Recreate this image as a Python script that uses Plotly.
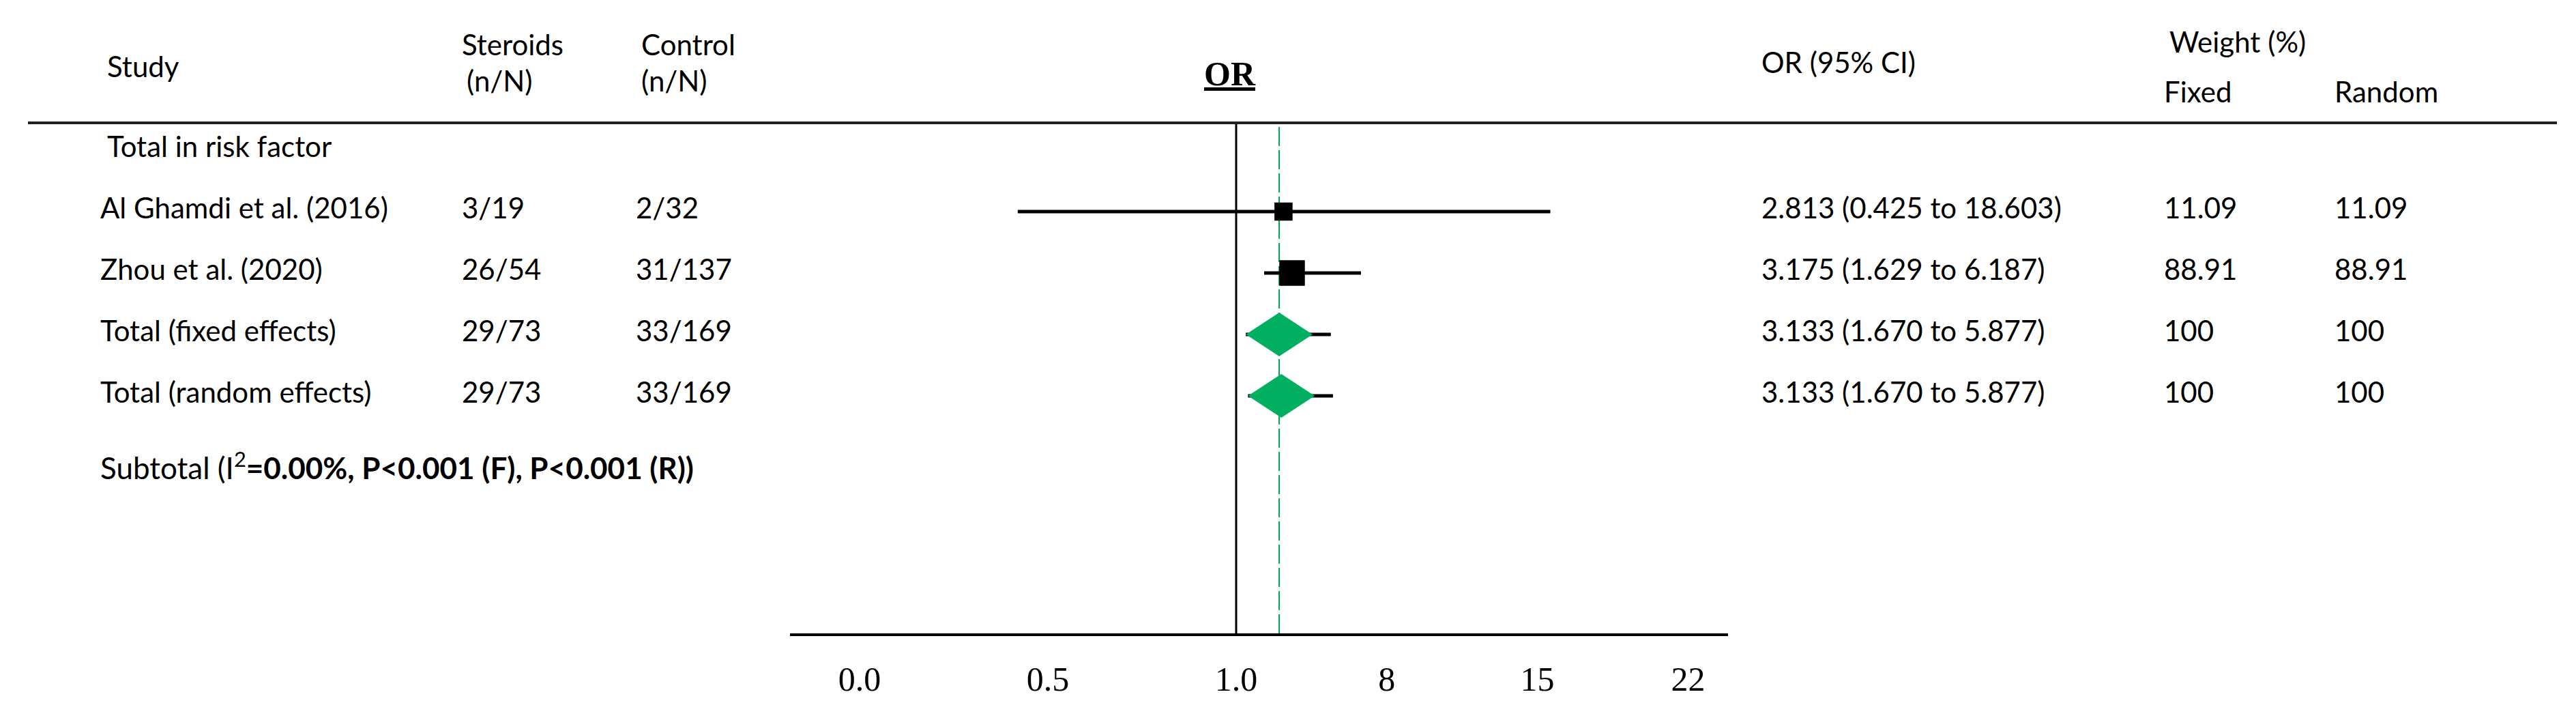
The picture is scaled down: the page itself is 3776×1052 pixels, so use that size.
import numpy as np
import plotly.graph_objects as go

W, H = 3776, 1052

# table columns (as printed)
studies = ["Al Ghamdi et al. (2016)", "Zhou et al. (2020)", "Total (fixed effects)", "Total (random effects)"]
steroids = ["3/19", "26/54", "29/73", "29/73"]
control = ["2/32", "31/137", "33/169", "33/169"]
or_text = ["2.813 (0.425 to 18.603)", "3.175 (1.629 to 6.187)", "3.133 (1.670 to 5.877)", "3.133 (1.670 to 5.877)"]
weight_fixed = ["11.09", "88.91", "100", "100"]
weight_random = ["11.09", "88.91", "100", "100"]
weights = [11.09, 88.91]

# odds ratios as drawn on the plot
or_mark = [3.2, 3.6, 3.0, 3.1]
ci_low = [0.42, 2.3, 1.45, 1.55]
ci_high = [15.6, 6.8, 5.4, 5.5]
pooled = 3.0

tick_vals = [0.0, 0.5, 1.0, 8, 15, 22]
tick_text = ["0.0", "0.5", "1.0", "8", "15", "22"]


def to_pos(v):
    # broken OR scale: linear 0-1, then 7 OR units per 0.4
    v = np.asarray(v, dtype=float)
    return np.where(v <= 1, v, 1 + (v - 1) / 17.5)


SANS = "Lato"
SERIF = "Liberation Serif"
TXT = 42

rows = [1, 2, 3, 4]
fig = go.Figure()

# confidence interval lines
xs, ys = [], []
for r, lo, hi in zip(rows, ci_low, ci_high):
    xs += [float(to_pos(lo)), float(to_pos(hi)), None]
    ys += [r, r, None]
fig.add_trace(go.Scatter(x=xs, y=ys, mode="lines", line=dict(color="black", width=5),
                         hoverinfo="skip", showlegend=False))

# study squares
fig.add_trace(go.Scatter(
    x=to_pos(or_mark[:2]), y=rows[:2], mode="markers",
    marker=dict(symbol="square", color="black", opacity=1, line=dict(width=0),
                size=[25 + w * 0.14 for w in weights]),
    showlegend=False))

# pooled diamonds
hw, hh = 0.0885, 0.356
for r, est in zip(rows[2:], or_mark[2:]):
    c = float(to_pos(est))
    fig.add_trace(go.Scatter(
        x=[c - hw, c, c + hw, c, c - hw], y=[r, r - hh, r, r + hh, r],
        mode="lines", fill="toself", fillcolor="#00B060",
        line=dict(width=0, color="#00B060"), showlegend=False))

# pixel helpers for layout only
def px_x(p):
    return p / W


def px_y(p):
    return 1 - p / H


y_bottom = px_y(920)
y_top = px_y(172)

shapes = [
    dict(type="line", xref="paper", yref="paper", x0=px_x(33), x1=px_x(3740), y0=y_top, y1=y_top,
         line=dict(color="#222", width=4)),
    dict(type="line", xref="x", yref="paper", x0=1, x1=1, y0=y_bottom, y1=y_top,
         line=dict(color="black", width=3), layer="below"),
    dict(type="line", xref="x", yref="paper", x0=float(to_pos(pooled)), x1=float(to_pos(pooled)),
         y0=y_bottom, y1=y_top, line=dict(color="#00A050", width=2, dash="28px,6px"), layer="below"),
]

ann = []
DX = -12     # small nudge of text columns
DY = -0.07   # rows nudged up a touch


def add_text(text, x, y, yref="paper", size=TXT, family=SANS, xanchor="left"):
    ann.append(dict(text=text, x=x, y=y, xref="paper", yref=yref, showarrow=False,
                    xanchor=xanchor, yanchor="middle", font=dict(family=family, size=size, color="black")))


# header
add_text("Study", px_x(159 + DX), px_y(89))
add_text("Steroids", px_x(679 + DX), px_y(57))
add_text("(n/N)", px_x(686 + DX), px_y(110))
add_text("Control", px_x(942 + DX), px_y(57))
add_text("(n/N)", px_x(942 + DX), px_y(110))
add_text("<b><u>OR</u></b>", px_x(1795), px_y(100), size=50, family=SERIF, xanchor="center")
add_text("OR (95% CI)", px_x(2572), px_y(83))
add_text("Weight (%)", px_x(3170), px_y(53))
add_text("Fixed", px_x(3162), px_y(126))
add_text("Random", px_x(3412), px_y(126))

add_text("Total in risk factor", px_x(159 + DX), 0 + DY, yref="y")
for i, r in enumerate(rows):
    add_text(studies[i], px_x(149 + DX), r + DY, yref="y")
    add_text(steroids[i], px_x(679 + DX), r + DY, yref="y")
    add_text(control[i], px_x(934 + DX), r + DY, yref="y")
    add_text(or_text[i], px_x(2572), r + DY, yref="y")
    add_text(weight_fixed[i], px_x(3162), r + DY, yref="y")
    add_text(weight_random[i], px_x(3412), r + DY, yref="y")
add_text("Subtotal (I<sup>2</sup><b>=0.00%, P&lt;0.001 (F), P&lt;0.001 (R))</b>", px_x(149 + DX), 5.21 + DY,
         yref="y", size=44)

fig.update_layout(
    width=W, height=H,
    margin=dict(l=0, r=0, t=0, b=0),
    paper_bgcolor="white", plot_bgcolor="white",
    showlegend=False,
    shapes=shapes,
    annotations=ann,
    xaxis=dict(
        domain=[px_x(1150), px_x(2525)],
        range=[(1150 - 1252) / 552, (2525 - 1252) / 552],
        tickvals=to_pos(tick_vals), ticktext=tick_text,
        tickfont=dict(family=SERIF, size=50, color="black"),
        ticks="outside", ticklen=20, tickcolor="rgba(0,0,0,0)",
        showline=True, linecolor="black", linewidth=4,
        showgrid=False, zeroline=False, fixedrange=True,
    ),
    yaxis=dict(
        domain=[y_bottom, 1],
        range=[(920 - 212) / 90, (0 - 212) / 90],
        visible=False, showgrid=False, zeroline=False, fixedrange=True,
    ),
)

fig.write_html("out.html")
